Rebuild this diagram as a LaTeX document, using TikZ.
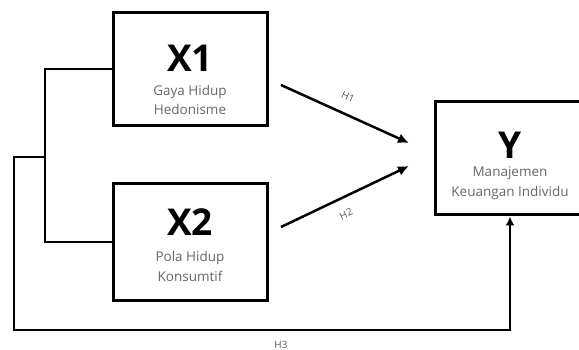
\documentclass[tikz,border=0pt]{standalone}
\usepackage{fontspec}
\setmainfont{Open Sans}
\usetikzlibrary{arrows.meta,calc,positioning}

\tikzset{
  varbox/.style={draw=black,line width=3pt,minimum width=154pt,minimum height=113pt,inner sep=0pt},
  vartitle/.style={font=\fontsize{37}{37}\selectfont\bfseries},
  varsub/.style={font=\fontsize{13.5}{19.5}\selectfont,text=black!60,align=center},
  hlabel/.style={font=\fontsize{10}{10}\selectfont,text=black!65,inner sep=1pt},
  path arrow/.style={line width=2.5pt,-{Latex[length=11pt,width=10pt]}},
  link/.style={line width=2pt}
}

\begin{document}
\begin{tikzpicture}[x=1pt,y=-1pt]
\useasboundingbox (0,0) rectangle (579,350);
% boxes
\node[varbox] (X1) at (190,69.5) {};
\node[varbox,minimum height=116pt] (X2) at (190,242) {};
\node[varbox,minimum width=150pt,minimum height=113pt] (Y) at (510,158.5) {};
% texts in boxes
\node[vartitle] (X1t) at ($(X1.center)+(0,-11.5)$) {X1};
\node[varsub] (X1s) at ($(X1.center)+(0,30.5)$) {Gaya Hidup\\Hedonisme};
\node[vartitle] (X2t) at ($(X2.center)+(0,-20)$) {X2};
\node[varsub] (X2s) at ($(X2.center)+(0,24.5)$) {Pola Hidup\\Konsumtif};
\node[vartitle] (Yt) at ($(Y.center)+(0,-13.5)$) {Y};
\node[varsub] (Ys) at ($(Y.center)+(0,24.5)$) {Manajemen\\Keuangan Individu};
% arrow ends
\coordinate (h1s) at (281,85);
\coordinate (h1e) at (409,143);
\coordinate (h2s) at (281,227);
\coordinate (h2e) at (409,166);
\coordinate (j) at (45,157);
\coordinate (bot) at (14,330);
% paths
\draw[path arrow] (h1s) -- (h1e);
\draw[path arrow] (h2s) -- (h2e);
\draw[link] (X1.west) -| (j) |- (X2.west);
\draw[link,-{Latex[length=9pt,width=9pt]}] (j) -| (bot) -| (Y.south);
% labels
\node[hlabel,rotate=-24] (H1) at (348,97) {H1};
\node[hlabel,rotate=25] (H2) at (346,214) {H2};
\node[hlabel] (H3) at (281,345) {H3};
\end{tikzpicture}
\end{document}
